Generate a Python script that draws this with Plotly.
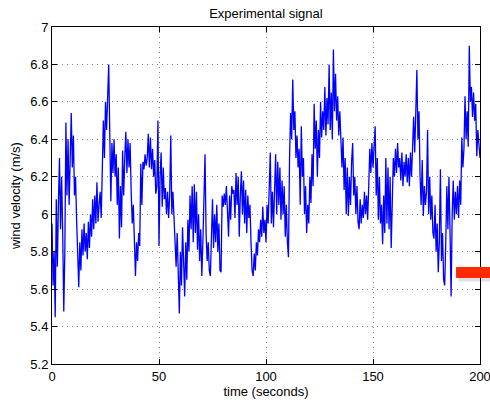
import numpy as np
import plotly.graph_objects as go

# time axis: sampled every 0.5 s from 0 to 200 s
dt = 0.5
velocity = [
    # 0-10 s
    5.95, 5.62, 5.80, 5.45, 6.08, 5.72, 6.06, 6.30, 5.92, 6.20,
    5.90, 5.48, 5.80, 6.49, 6.10, 6.40, 6.05, 6.35, 6.54, 6.25,
    # 10-20 s
    6.42, 6.10, 6.20, 5.97, 5.75, 5.61, 5.85, 5.70, 5.92, 5.78,
    5.95, 5.80, 5.90, 5.76, 5.96, 5.82, 6.00, 5.88, 6.08, 5.92,
    # 20-30 s
    6.10, 5.95, 6.17, 5.96, 6.05, 6.12, 5.98, 6.20, 6.50, 6.30,
    6.60, 6.45, 6.63, 6.80, 6.43, 6.07, 6.38, 6.22, 6.40, 6.20,
    # 30-40 s
    6.32, 6.05, 6.25, 5.87, 6.15, 5.93, 6.34, 6.10, 6.30, 6.44,
    6.22, 6.40, 6.25, 6.38, 6.12, 5.95, 6.05, 5.88, 5.67, 5.85,
    # 40-50 s
    5.75, 5.90, 5.83, 6.27, 6.05, 6.28, 6.24, 6.32, 6.26, 6.30,
    6.43, 6.25, 6.41, 6.24, 6.35, 6.20, 6.29, 6.11, 6.15, 6.50,
    # 50-60 s
    5.83, 6.20, 6.33, 6.04, 6.25, 6.08, 6.14, 6.00, 6.12, 5.98,
    6.10, 6.42, 6.00, 6.12, 5.97, 5.85, 5.72, 5.90, 5.61, 5.47,
    # 60-70 s
    5.80, 5.62, 5.93, 5.70, 5.56, 5.85, 5.65, 5.97, 5.80, 6.10,
    5.92, 6.15, 5.85, 6.16, 5.90, 6.12, 5.81, 6.00, 5.75, 5.92,
    # 70-80 s
    5.67, 5.85, 6.05, 6.32, 5.90, 5.75, 5.85, 5.70, 5.67, 5.90,
    6.08, 5.82, 6.00, 5.85, 6.05, 5.80, 5.95, 5.70, 5.69, 6.10,
    # 80-90 s
    6.04, 6.11, 6.05, 6.15, 6.00, 5.88, 6.10, 5.97, 6.15, 6.11,
    6.13, 5.98, 6.22, 6.05, 6.20, 5.88, 6.10, 6.23, 6.00, 6.18,
    # 90-100 s
    5.95, 6.13, 5.90, 6.10, 5.98, 6.05, 5.85, 5.70, 5.67, 5.79,
    5.70, 5.85, 5.78, 5.92, 5.85, 5.97, 5.88, 6.04, 5.90, 5.97,
    # 100-110 s
    5.85, 6.05, 5.95, 6.18, 6.33, 5.95, 6.12, 5.93, 6.20, 6.32,
    6.00, 6.28, 6.05, 6.25, 5.97, 6.18, 6.00, 6.15, 5.88, 6.05,
    # 110-120 s
    5.85, 5.77, 6.30, 6.54, 6.40, 6.72, 6.45, 6.55, 6.30, 6.42,
    6.25, 6.35, 6.05, 6.47, 6.20, 6.30, 6.00, 6.15, 5.90, 6.05,
    # 120-130 s
    5.95, 6.20, 6.06, 6.32, 6.15, 6.59, 6.35, 6.50, 6.20, 6.45,
    6.30, 6.60, 6.41, 6.55, 6.45, 6.68, 6.42, 6.62, 6.48, 6.80,
    # 130-140 s
    6.45, 6.65, 6.40, 6.88, 6.55, 6.75, 6.50, 6.63, 6.42, 6.55,
    6.40, 6.25, 6.41, 6.13, 6.30, 6.00, 6.25, 5.99, 6.20, 6.05,
    # 140-150 s
    6.28, 6.38, 6.10, 6.20, 6.00, 6.15, 5.96, 5.92, 6.08, 5.95,
    6.05, 5.98, 6.12, 6.00, 6.10, 5.97, 6.15, 6.35, 6.22, 6.38,
    # 150-160 s
    6.25, 6.35, 6.47, 6.10, 6.30, 5.97, 6.20, 5.95, 6.05, 5.84,
    6.10, 5.90, 6.30, 5.95, 6.25, 5.92, 6.20, 5.82, 6.10, 6.30,
    # 160-170 s
    6.20, 6.35, 6.22, 6.38, 6.25, 6.30, 6.18, 6.33, 6.15, 6.28,
    6.20, 6.32, 6.17, 6.30, 6.15, 6.33, 6.20, 6.35, 6.52, 6.33,
    # 170-180 s
    6.50, 6.77, 6.40, 6.55, 6.20, 6.05, 6.29, 5.99, 6.15, 6.05,
    6.12, 6.45, 6.00, 6.20, 5.97, 6.10, 5.90, 5.87, 6.05, 5.80,
    # 180-190 s
    5.95, 5.69, 5.85, 6.24, 5.75, 5.90, 5.65, 5.62, 5.85, 6.15,
    5.92, 6.20, 5.90, 5.56, 6.00, 6.18, 5.97, 6.12, 6.00, 6.15,
    # 190-200 s
    5.98, 6.18, 6.05, 6.41, 6.25, 6.35, 6.63, 6.40, 6.55, 6.36,
    6.90, 6.60, 6.68, 6.52, 6.65, 6.50, 6.59, 6.31, 6.45, 6.35,
    6.30,
]
time = np.arange(len(velocity)) * dt

x_ticks = [0, 50, 100, 150, 200]
y_ticks = [5.2, 5.4, 5.6, 5.8, 6, 6.2, 6.4, 6.6, 6.8, 7]
y_tick_labels = ["5.2", "5.4", "5.6", "5.8", "6", "6.2", "6.4", "6.6", "6.8", "7"]

FONT = "Liberation Sans, Arial, Helvetica, sans-serif"

fig = go.Figure()
fig.add_trace(go.Scatter(
    x=time, y=velocity, mode="lines",
    line=dict(color="#0000ff", width=1.3),
    showlegend=False,
))

axis_common = dict(
    showline=True, linecolor="black", linewidth=1, mirror="ticks",
    ticks="inside", ticklen=5, tickcolor="black", tickwidth=1,
    showgrid=True, gridcolor="#808080", griddash="1px,4px", gridwidth=1,
    zeroline=False, automargin=False, ticklabeloverflow="allow",
    tickfont=dict(family=FONT, size=13, color="black"),
)

fig.update_layout(
    width=490, height=400,
    margin=dict(l=52, r=10, t=27, b=36),
    paper_bgcolor="white", plot_bgcolor="white",
    font=dict(family=FONT, size=13, color="black"),
    title=dict(text="Experimental signal", x=0.5427, xanchor="center",
               y=0.967, yanchor="middle", font=dict(family=FONT, size=13)),
    xaxis=dict(range=[0, 200], tickvals=x_ticks,
               title=dict(text="time (seconds)", standoff=2,
                          font=dict(family=FONT, size=13)),
               **axis_common),
    yaxis=dict(range=[5.2, 7], tickvals=y_ticks, ticktext=y_tick_labels,
               title=dict(text="wind velocity (m/s)", standoff=6,
                          font=dict(family=FONT, size=13)),
               **axis_common),
)

# red marker overlay at right edge (with soft shadow)
fig.add_shape(type="rect", xref="paper", yref="paper",
              x0=0.950, x1=1.03, y0=0.245, y1=0.280,
              fillcolor="rgba(0,0,0,0.12)", line=dict(width=0), layer="above")
fig.add_shape(type="rect", xref="paper", yref="paper",
              x0=0.944, x1=1.03, y0=0.255, y1=0.288,
              fillcolor="#ff2a00", line=dict(width=0), layer="above")

fig.write_html(
    "out.html",
    config={"displayModeBar": False},
    post_script="document.body.style.margin='0';document.body.style.overflow='hidden';",
)
